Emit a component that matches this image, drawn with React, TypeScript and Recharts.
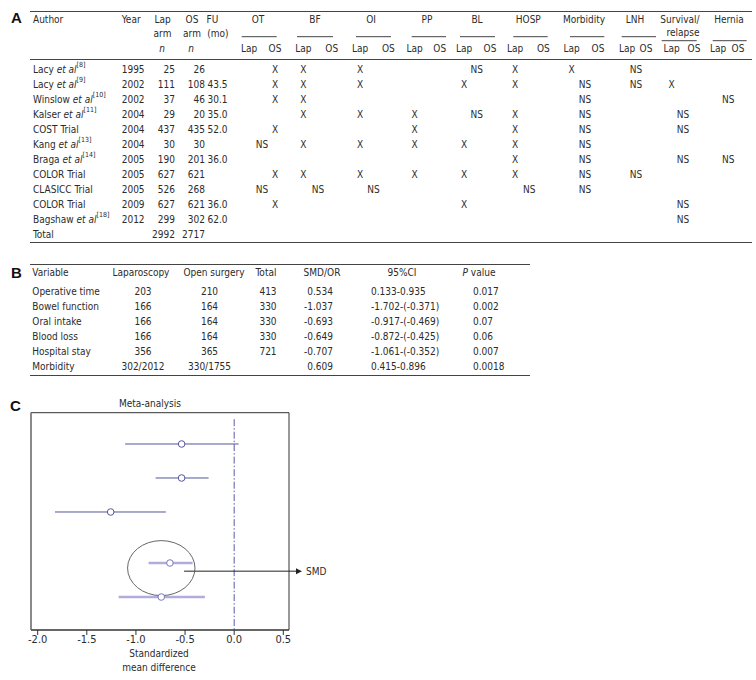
import React from 'react';
import { ScatterChart, Scatter, XAxis, YAxis, ErrorBar, ReferenceLine, ReferenceDot, ReferenceArea } from 'recharts';

// ---- panel A: study table ----
const studyNames = ['Lacy', 'Lacy', 'Winslow', 'Kalser', 'COST Trial', 'Kang', 'Braga', 'COLOR Trial', 'CLASICC Trial', 'COLOR Trial', 'Bagshaw'];
const studyRefs = [8, 9, 10, 11, null, 13, 14, null, null, null, 18];
const studyYears = ['1995', '2002', '2002', '2004', '2004', '2004', '2005', '2005', '2005', '2009', '2012'];
const lapArm = ['25', '111', '37', '29', '437', '30', '190', '627', '526', '627', '299'];
const osArm = ['26', '108', '46', '20', '435', '30', '201', '621', '268', '621', '302'];
const followUp = ['', '43.5', '30.1', '35.0', '52.0', '', '36.0', '', '', '36.0', '62.0'];
const totals = ['2992', '2717'];

// L = X under Lap, O = X under OS, NS = not significant (spans both)
const outcomeNames = ['OT', 'BF', 'OI', 'PP', 'BL', 'HOSP', 'Morbidity', 'LNH', 'Survival/relapse', 'Hernia'];
const outcomeOT = ['O', 'O', 'O', '', 'O', 'NS', '', 'O', 'NS', 'O', ''];
const outcomeBF = ['L', 'L', 'L', 'L', '', 'L', '', 'L', 'NS', '', ''];
const outcomeOI = ['L', 'L', '', 'L', '', 'L', '', 'L', 'NS', '', ''];
const outcomePP = ['', '', '', 'L', 'L', 'L', '', 'L', '', '', ''];
const outcomeBL = ['NS', 'L', '', 'NS', '', 'L', '', 'L', '', 'L', ''];
const outcomeHOSP = ['L', 'L', '', 'L', 'L', 'L', 'L', 'L', 'NS', '', ''];
const outcomeMorb = ['L', 'NS', 'NS', 'NS', 'NS', 'NS', 'NS', 'NS', 'NS', '', ''];
const outcomeLNH = ['NS', 'NS', '', '', '', '', '', 'NS', '', '', ''];
const outcomeSurv = ['', 'L', '', 'NS', 'NS', '', 'NS', '', '', 'NS', 'NS'];
const outcomeHernia = ['', '', 'NS', '', '', '', 'NS', '', '', '', ''];
const outcomeCells = [outcomeOT, outcomeBF, outcomeOI, outcomePP, outcomeBL, outcomeHOSP, outcomeMorb, outcomeLNH, outcomeSurv, outcomeHernia];

// column geometry for the outcome groups
const groupCols = [
  { x1: 241.7, x2: 276.7, lap: 249, os: 275, mid: 258, ns: 262, ul: 36.7 },
  { x1: 297, x2: 333, lap: 303.3, os: 331.7, mid: 315, ns: 318, ul: 36.7 },
  { x1: 356, x2: 391, lap: 360, os: 388.3, mid: 371, ns: 373.5, ul: 36.7 },
  { x1: 411.7, x2: 446, lap: 414.7, os: 439.7, mid: 427, ns: 429, ul: 36.7 },
  { x1: 460, x2: 495, lap: 464, os: 490, mid: 477, ns: 476.7, ul: 36.7 },
  { x1: 513.3, x2: 547.7, lap: 515, os: 543.3, mid: 528.3, ns: 529.3, ul: 36.7 },
  { x1: 570, x2: 604.3, lap: 571.7, os: 598, mid: 584, ns: 585, ul: 36.7 },
  { x1: 621.7, x2: 656, lap: 627, os: 646, mid: 635, ns: 636, ul: 36.7 },
  { x1: 661.7, x2: 696.7, lap: 671.7, os: 694, mid: 680, ns: 683, ul: 40.7 },
  { x1: 712.7, x2: 746.7, lap: 718, os: 738, mid: 729, ns: 728.3, ul: 40.7 },
];

// ---- panel B: pooled results ----
const pooledVars = ['Operative time', 'Bowel function', 'Oral intake', 'Blood loss', 'Hospital stay', 'Morbidity'];
const pooledLap = ['203', '166', '166', '166', '356', '302/2012'];
const pooledOpen = ['210', '164', '164', '164', '365', '330/1755'];
const pooledTotal = ['413', '330', '330', '330', '721', ''];
const pooledEffect = ['0.534', '-1.037', '-0.693', '-0.649', '-0.707', '0.609'];
const pooledCI = ['0.133-0.935', '-1.702-(-0.371)', '-0.917-(-0.469)', '-0.872-(-0.425)', '-1.061-(-0.352)', '0.415-0.896'];
const pooledP = ['0.017', '0.002', '0.07', '0.06', '0.007', '0.0018'];

// ---- panel C: forest plot ----
const forestRow = [1, 2, 3, 4.5, 5.5];
const forestSmd = [-0.535, -0.535, -1.257, -0.654, -0.742];
const forestLow = [-1.11, -0.8, -1.824, -0.871, -1.176];
const forestHigh = [0.045, -0.26, -0.695, -0.423, -0.298];
const xTicks = [-2, -1.5, -1, -0.5, 0, 0.5];
const xDomain = [-2.068, 0.558];
const yDomain = [0.08, 6.47];

const forestData = forestRow.map((y, i) => ({
  x: forestSmd[i],
  y,
  err: [forestSmd[i] - forestLow[i], forestHigh[i] - forestSmd[i]],
}));
const darkRows = forestData.slice(0, 3);
const lightRows = forestData.slice(3);

const FONT = "'DejaVu Sans Condensed', 'DejaVu Sans', sans-serif";
const INK = '#2b2b2b';
const FS = 10;

const T = ({ x, y, a = 'start', children, italic, size }: any) => (
  <text x={x} y={y} textAnchor={a} dominantBaseline="central" fontSize={size || FS}
    fontStyle={italic ? 'italic' : 'normal'} fill={INK}>
    {children}
  </text>
);

const rowY = (i: number) => 69 + 15 * i;
const bRowY = (i: number) => 291.7 + 15 * i;

const Tables = () => (
  <svg width={756} height={680} style={{ position: 'absolute', left: 0, top: 0, fontFamily: FONT }}>
    {/* panel letters */}
    <text x={11} y={17} dominantBaseline="central" fontSize={15} fontWeight="bold" fontFamily="'Liberation Sans', Arial" fill="#111">A</text>
    <text x={11} y={272} dominantBaseline="central" fontSize={15} fontWeight="bold" fontFamily="'Liberation Sans', Arial" fill="#111">B</text>
    <text x={10} y={405} dominantBaseline="central" fontSize={15} fontWeight="bold" fontFamily="'Liberation Sans', Arial" fill="#111">C</text>

    {/* table A rules */}
    <line x1={30} x2={752} y1={11.5} y2={11.5} stroke="#444" strokeWidth={1.2} />
    <line x1={30} x2={752} y1={59.5} y2={59.5} stroke="#444" strokeWidth={1} />
    <line x1={30} x2={752} y1={242.5} y2={242.5} stroke="#444" strokeWidth={1.2} />

    {/* table A header */}
    <T x={33} y={19}>Author</T>
    <T x={121.7} y={19}>Year</T>
    <T x={162.5} y={19} a="middle">Lap</T>
    <T x={162.5} y={33} a="middle">arm</T>
    <T x={162} y={48.3} a="middle" italic>n</T>
    <T x={192} y={19} a="middle">OS</T>
    <T x={192} y={33} a="middle">arm</T>
    <T x={191} y={48.3} a="middle" italic>n</T>
    <T x={212.5} y={19} a="middle">FU</T>
    <T x={218} y={33} a="middle">(mo)</T>
    {groupCols.map((g, k) => (
      <g key={k}>
        {outcomeNames[k] === 'Survival/relapse' ? (
          <>
            <T x={g.mid} y={19} a="middle">Survival/</T>
            <T x={g.mid + 3} y={32.5} a="middle">relapse</T>
          </>
        ) : (
          <T x={g.mid} y={19} a="middle">{outcomeNames[k]}</T>
        )}
        <line x1={g.x1} x2={g.x2} y1={g.ul} y2={g.ul} stroke="#444" strokeWidth={1} />
        <T x={g.lap} y={48.3} a="middle">Lap</T>
        <T x={g.os} y={48.3} a="middle">OS</T>
        {outcomeCells[k].map((c, i) => {
          if (!c) return null;
          if (c === 'NS') return <T key={i} x={g.ns} y={rowY(i)} a="middle">NS</T>;
          return <T key={i} x={c === 'L' ? g.lap : g.os} y={rowY(i)} a="middle">X</T>;
        })}
      </g>
    ))}

    {/* table A body */}
    {studyNames.map((name, i) => (
      <g key={i}>
        <text x={33} y={rowY(i)} dominantBaseline="central" fontSize={FS} fill={INK}>
          {name}
          {studyRefs[i] != null && (
            <>
              <tspan> </tspan>
              <tspan fontStyle="italic">et al</tspan>
              <tspan fontSize={7} dy={-4}>[{studyRefs[i]}]</tspan>
            </>
          )}
        </text>
        <T x={121.7} y={rowY(i)}>{studyYears[i]}</T>
        <T x={175} y={rowY(i)} a="end">{lapArm[i]}</T>
        <T x={205} y={rowY(i)} a="end">{osArm[i]}</T>
        <T x={207.5} y={rowY(i)}>{followUp[i]}</T>
      </g>
    ))}
    <T x={33} y={rowY(11)}>Total</T>
    <T x={175} y={rowY(11)} a="end">{totals[0]}</T>
    <T x={205} y={rowY(11)} a="end">{totals[1]}</T>

    {/* table B */}
    <line x1={30} x2={530} y1={264.5} y2={264.5} stroke="#444" strokeWidth={1.2} />
    <line x1={30} x2={530} y1={375.5} y2={375.5} stroke="#444" strokeWidth={1.2} />
    <T x={32.3} y={272}>Variable</T>
    <T x={141} y={272} a="middle">Laparoscopy</T>
    <T x={214} y={272} a="middle">Open surgery</T>
    <T x={266} y={272} a="middle">Total</T>
    <T x={322} y={272} a="middle">SMD/OR</T>
    <T x={402} y={272} a="middle">95%CI</T>
    <text x={479} y={272} textAnchor="middle" dominantBaseline="central" fontSize={FS} fill={INK}>
      <tspan fontStyle="italic">P</tspan> value
    </text>
    {pooledVars.map((v, i) => (
      <g key={i}>
        <T x={32.3} y={bRowY(i)}>{v}</T>
        <T x={143} y={bRowY(i)} a="middle">{pooledLap[i]}</T>
        <T x={209.5} y={bRowY(i)} a="middle">{pooledOpen[i]}</T>
        <T x={268} y={bRowY(i)} a="middle">{pooledTotal[i]}</T>
        <T x={333} y={bRowY(i)} a="end">{pooledEffect[i]}</T>
        <T x={371} y={bRowY(i)}>{pooledCI[i]}</T>
        <T x={473} y={bRowY(i)}>{pooledP[i]}</T>
      </g>
    ))}

    {/* panel C titles */}
    <T x={150} y={403} a="middle">Meta-analysis</T>
    <T x={159} y={653} a="middle">Standardized</T>
    <T x={159} y={667} a="middle">mean difference</T>
  </svg>
);

const Dot = (props: any) => {
  const { cx, cy, fill } = props;
  return <circle cx={cx} cy={cy} r={3.3} fill="#fff" stroke={fill} strokeWidth={1} />;
};

const Ellipse = (props: any) => (
  <ellipse cx={props.cx} cy={props.cy} rx={33.7} ry={27.5} fill="none" stroke="#555" strokeWidth={0.9} />
);

const ArrowTip = (props: any) => {
  const { cx, cy } = props;
  return (
    <g>
      <polygon points={`${cx},${cy} ${cx - 6},${cy - 3} ${cx - 6},${cy + 3}`} fill="#222" />
      <text x={cx + 4} y={cy} dominantBaseline="central" fontSize={FS} fontFamily={FONT} fill={INK}>SMD</text>
    </g>
  );
};

const Forest = () => (
  <div style={{ position: 'absolute', left: 0, top: 380 }}>
    <ScatterChart width={360} height={300} margin={{ top: 32.7, right: 71, bottom: 0, left: 31 }}>
      <XAxis type="number" dataKey="x" domain={xDomain} allowDataOverflow ticks={xTicks}
        tickFormatter={(v: number) => v.toFixed(1)} height={50} tickSize={5} tickMargin={0}
        tick={{ fontSize: 11, fill: INK, fontFamily: FONT }} stroke="#333" />
      <YAxis type="number" dataKey="y" domain={yDomain} reversed allowDataOverflow hide />
      <ReferenceArea x1={xDomain[0]} x2={xDomain[1]} y1={yDomain[0]} y2={yDomain[1]} fill="none" stroke="#333" strokeWidth={1} ifOverflow="visible" />
      <ReferenceLine x={xDomain[0]} stroke="#8a8a8a" strokeWidth={2} ifOverflow="visible" />
      <ReferenceLine segment={[{ x: 0, y: 0.27 }, { x: 0, y: 6.47 }]} stroke="#5a5aa6" strokeDasharray="7 2 1.5 2" />
      <ReferenceDot x={-0.742} y={4.65} shape={Ellipse} ifOverflow="visible" />
      <ReferenceLine segment={[{ x: -0.51, y: 4.74 }, { x: 0.66, y: 4.74 }]} stroke="#222" ifOverflow="visible" />
      <ReferenceDot x={0.69} y={4.74} shape={ArrowTip} ifOverflow="visible" />
      <Scatter data={darkRows} fill="#55559c" shape={Dot} isAnimationActive={false}>
        <ErrorBar dataKey="err" direction="x" width={0} stroke="#55559c" strokeWidth={1} isAnimationActive={false} />
      </Scatter>
      <Scatter data={lightRows} fill="#7c78b8" shape={Dot} isAnimationActive={false}>
        <ErrorBar dataKey="err" direction="x" width={0} stroke="#b0acdc" strokeWidth={2.5} isAnimationActive={false} />
      </Scatter>
    </ScatterChart>
  </div>
);

export default function App() {
  return (
    <div style={{ position: 'absolute', left: 0, top: 0, width: 756, height: 680, background: '#fff', overflow: 'hidden' }}>
      <Tables />
      <Forest />
    </div>
  );
}
